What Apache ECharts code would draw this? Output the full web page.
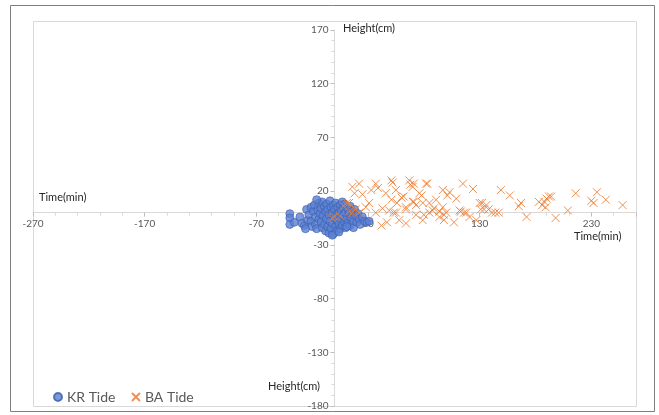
<!DOCTYPE html>
<html>
<head>
<meta charset="utf-8">
<script src="https://cdn.jsdelivr.net/npm/echarts@6/dist/echarts.min.js"></script>
<style>
  html, body { margin: 0; padding: 0; background: #fff; }
  #main { width: 659px; height: 415px; }
</style>
</head>
<body>
<div id="main"></div>
<script>
// KR Tide (blue circles)
var krTime = [-40, -40, -40, -36, -31, -29, -27, -25, -24, -23, -21, -21, -20, -19, -18, -17, -17, -16,
  -15, -14, -14, -13, -12, -12, -11, -11, -10, -9, -9, -8, -8, -7, -7, -6, -6, -5, -5, -4, -4, -3,
  -3, -2, -2, -1, -1, 0, 0, 1, 1, 2, 2, 3, 3, 4, 4, 5, 5, 6, 6, 7, 7, 8, 8, 9, 9, 10, 10, 11, 12,
  12, 13, 14, 14, 15, 16, 17, 17, 18, 19, 20, 21, 22, 23, 25, 27, 29, 31, -26, -16, -2, 4, 11];
var krHeight = [-1, -5, -11, -9, -4, -10, -12, 3, -7, -2, 5, -8, -13, 1, 7, -4, -11, -15,
  2, 9, -6, -1, 4, -9, -14, 10, -3, 6, -11, 1, -17, -6, 8, -13, 3, -2, -19, 11, -8, 5,
  -15, 0, -10, 7, -20, -5, 3, -13, 9, -2, -17, 5, -8, 0, -11, 7, -15, 2, -6, 10, -12, -3, 4, -9,
  8, 0, -14, -6, 3, -10, -1, 6, -12, -5, 1, -8, -14, 3, -3, -9, -1, -6, -11, -4, -8, -9, -8, -15, 12, -21, -18, -13];

// BA Tide (orange crosses)
var baTime = [0, -2, 5, 11, 13, 16, 16, 19, 22, 18, 25, 13, 22, 33, 39, 31, 37, 43, 47, 51, 46, 55,
  51, 56, 53, 58, 64, 67, 68, 71, 62, 70, 64, 73, 79, 82, 76, 85, 85, 89, 97, 101, 94, 100, 98, 109,
  115, 113, 118, 121, 127, 132, 134, 37, 52, 49, 55, 64, 73, 70, 83, 78, 71, 79, 80, 88, 103, 97,
  94, 98, 112, 116, 130, 136, 131, 138, 141, 144, 147, 149, 157, 167, 165, 172, 183, 186, 188, 190,
  192, 194, 189, 198, 209, 216, 230, 232, 235, 243, 258, 28, 60, 91, 107, 124, 8, 42];
var baHeight = [-4, -5, -3, 9, 1, 0, 24, 3, 27, 18, 17, 9, 0, 21, 23, 9, 0, 4, -9, 30, 18, 21,
  12, 9, 0, -7, -10, 30, 26, 27, 15, 10, 3, -2, -7, 27, 18, 9, 0, 4, 21, 16, -4, 0, -7, 13,
  27, 1, 0, -4, -7, 9, 3, 27, 28, 2, 0, 5, 7, 24, 27, 16, 10, 9, -2, 2, 19, 5,
  1, -2, 2, 0, 9, 7, 3, 3, 0, 0, 0, 21, 16, 9, 6, -4, 10, 7, 10, 13,
  15, 15, 5, -5, 2, 18, 11, 9, 19, 12, 7, 5, 14, 12, -9, 22, 6, -12];

var xTicks = [-270, -170, -70, 30, 130, 230];
var yTicks = [170, 120, 70, 20, -30, -80, -130, -180];

function pairs(xs, ys) {
  var out = [];
  for (var i = 0; i < xs.length; i++) out.push([xs[i], ys[i]]);
  return out;
}

var FONT = 'Lato';
var GRID = { left: 33, right: 23, top: 30, bottom: 9 };
var chart = echarts.init(document.getElementById('main'));

var axisCommon = {
  axisLine: { onZero: false, lineStyle: { color: '#D9D9D9', width: 1 } },
  axisTick: { show: true, length: 4, lineStyle: { color: '#BFBFBF' } },
  minorTick: { show: true, splitNumber: 5, length: 3, lineStyle: { color: '#D9D9D9' } },
  splitLine: { show: false },
  axisLabel: { color: '#595959', fontSize: 10, fontFamily: FONT, showMinLabel: true, showMaxLabel: true, margin: 6 }
};

chart.setOption({
  animation: false,
  backgroundColor: '#fff',
  textStyle: { fontFamily: FONT },
  grid: { left: GRID.left, right: GRID.right, top: GRID.top, bottom: GRID.bottom, containLabel: false, outerBoundsMode: 'none' },
  xAxis: echarts.util.merge({
    type: 'value',
    position: 'bottom',
    min: xTicks[0],
    max: 270,
    interval: 100,
    axisLabel: { formatter: function (v) { return v === 270 ? '' : v; } }
  }, axisCommon),
  yAxis: echarts.util.merge({
    type: 'value',
    position: 'left',
    min: yTicks[yTicks.length - 1],
    max: yTicks[0],
    interval: 50
  }, axisCommon),
  legend: {
    left: 48,
    top: 385,
    itemGap: 14,
    itemWidth: 8,
    itemHeight: 8,
    textStyle: { color: '#595959', fontSize: 14, fontFamily: FONT },
    data: ['KR Tide', 'BA Tide']
  },
  graphic: [
    { type: 'rect', shape: { x: 10.5, y: 5.5, width: 644, height: 406 },
      style: { fill: 'none', stroke: '#7F7F7F', lineWidth: 1 }, silent: true },
    { type: 'rect', shape: { x: 33.5, y: 21.5, width: 603, height: 385 },
      style: { fill: 'none', stroke: '#D9D9D9', lineWidth: 1 }, silent: true, z: -1 },
    { type: 'text', left: 343, top: 23, style: { text: 'Height(cm)', fill: '#262626', font: '11px ' + FONT } },
    { type: 'text', left: 268, top: 381, style: { text: 'Height(cm)', fill: '#262626', font: '11px ' + FONT } },
    { type: 'text', left: 39, top: 192, style: { text: 'Time(min)', fill: '#262626', font: '11px ' + FONT } },
    { type: 'text', left: 574, top: 231, style: { text: 'Time(min)', fill: '#262626', font: '11px ' + FONT } }
  ],
  series: [
    {
      name: 'KR Tide',
      type: 'scatter',
      symbol: 'circle',
      symbolSize: 8,
      itemStyle: { color: '#5B80D2', borderColor: '#3B5EAE', borderWidth: 0.8 },
      data: pairs(krTime, krHeight)
    },
    {
      name: 'BA Tide',
      type: 'scatter',
      symbol: 'path://M0,0L10,10M10,0L0,10',
      symbolSize: 8,
      itemStyle: { color: 'none', borderColor: '#ED7D31', borderWidth: 1, opacity: 0.85 },
      data: pairs(baTime, baHeight)
    }
  ]
});

// move both axes onto the origin, found through the chart's own scales
var origin = chart.convertToPixel({ gridIndex: 0 }, [0, 0]);
var plotBottom = 415 - GRID.bottom;
chart.setOption({
  xAxis: { offset: -(plotBottom - origin[1]) },
  yAxis: { offset: -(origin[0] - GRID.left) }
});
</script>
</body>
</html>
